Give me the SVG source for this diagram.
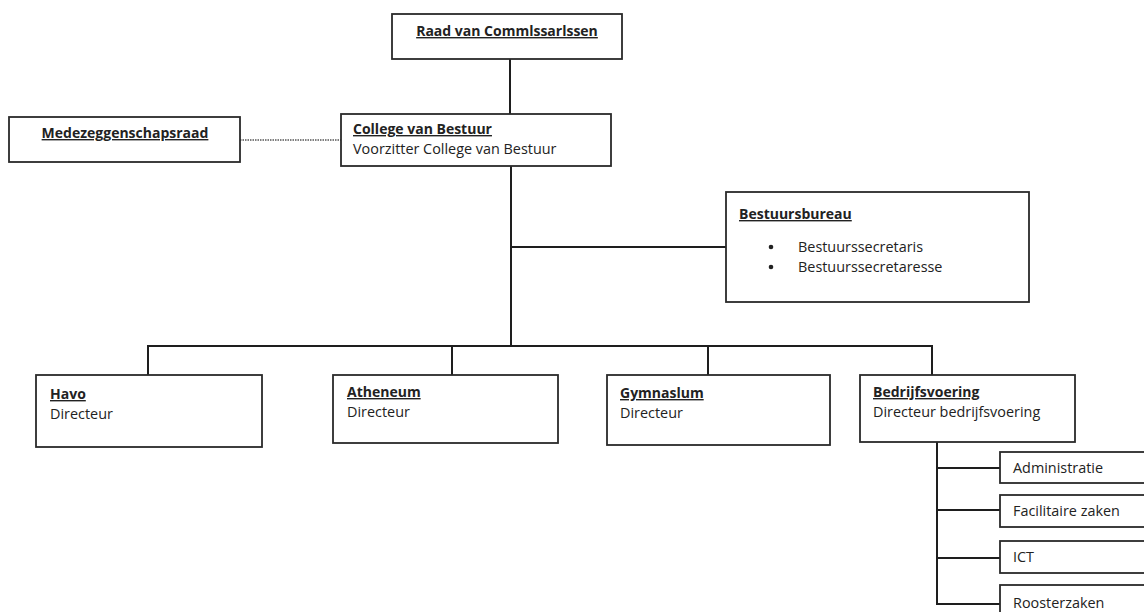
<svg xmlns="http://www.w3.org/2000/svg" width="1144" height="612" viewBox="0 0 1144 612">
<style>
.box{fill:#fff;stroke:#2a2a2a;stroke-width:1.8}
.ln{fill:none;stroke:#1e1e1e;stroke-width:2}
.dot{fill:none;stroke:#555;stroke-width:1.5;stroke-dasharray:1.5 1}
text{font-family:"Open Sans","Noto Sans","Liberation Sans",sans-serif;font-size:14.4px;fill:#222}
.t{font-weight:bold;text-decoration:underline;font-size:14px}
</style>
<rect width="1144" height="612" fill="#fff"/>
<g id="connectors">
<line class="ln" x1="510" y1="59" x2="510" y2="114"/>
<line class="dot" x1="240" y1="140" x2="341" y2="140"/>
<line class="ln" x1="511" y1="166" x2="511" y2="346"/>
<line class="ln" x1="511" y1="247" x2="726" y2="247"/>
<polyline class="ln" points="148,375 148,346 932,346 932,375"/>
<line class="ln" x1="452" y1="346" x2="452" y2="375"/>
<line class="ln" x1="708" y1="346" x2="708" y2="375"/>
<polyline class="ln" points="937,442 937,604 1000,604"/>
<line class="ln" x1="937" y1="468" x2="1000" y2="468"/>
<line class="ln" x1="937" y1="510" x2="1000" y2="510"/>
<line class="ln" x1="937" y1="558" x2="1000" y2="558"/>
</g>
<g id="raad">
<rect class="box" x="392" y="14" width="230" height="45"/>
<text class="t" x="507" y="36" text-anchor="middle">Raad van Commlssarlssen</text>
</g>
<g id="mr">
<rect class="box" x="9" y="117" width="231" height="45"/>
<text class="t" x="125" y="138" text-anchor="middle">Medezeggenschapsraad</text>
</g>
<g id="cvb">
<rect class="box" x="341" y="114" width="270" height="52"/>
<text class="t" x="353" y="134">College van Bestuur</text>
<text x="353" y="154">Voorzitter College van Bestuur</text>
</g>
<g id="bestuursbureau">
<rect class="box" x="726" y="192" width="303" height="110"/>
<text class="t" x="739" y="219">Bestuursbureau</text>
<circle cx="771" cy="247" r="2.3" fill="#222"/>
<circle cx="771" cy="267" r="2.3" fill="#222"/>
<text x="798" y="252">Bestuurssecretaris</text>
<text x="798" y="272">Bestuurssecretaresse</text>
</g>
<g id="havo">
<rect class="box" x="36" y="375" width="226" height="72"/>
<text class="t" x="50" y="399">Havo</text>
<text x="50" y="419">Directeur</text>
</g>
<g id="atheneum">
<rect class="box" x="333" y="375" width="225" height="68"/>
<text class="t" x="347" y="397">Atheneum</text>
<text x="347" y="417">Directeur</text>
</g>
<g id="gymnasium">
<rect class="box" x="607" y="375" width="223" height="70"/>
<text class="t" x="620" y="398">Gymnaslum</text>
<text x="620" y="418">Directeur</text>
</g>
<g id="bedrijfsvoering">
<rect class="box" x="860" y="375" width="215" height="67"/>
<text class="t" x="873" y="397">Bedrijfsvoering</text>
<text x="873" y="417">Directeur bedrijfsvoering</text>
</g>
<g id="administratie">
<rect class="box" x="1000" y="452" width="150" height="31"/>
<text x="1013" y="473">Administratie</text>
</g>
<g id="facilitaire">
<rect class="box" x="1000" y="495" width="150" height="32"/>
<text x="1013" y="516">Facilitaire zaken</text>
</g>
<g id="ict">
<rect class="box" x="1000" y="541" width="150" height="32"/>
<text x="1013" y="562">ICT</text>
</g>
<g id="roosterzaken">
<rect class="box" x="1000" y="585" width="150" height="40"/>
<text x="1013" y="608">Roosterzaken</text>
</g>
</svg>
